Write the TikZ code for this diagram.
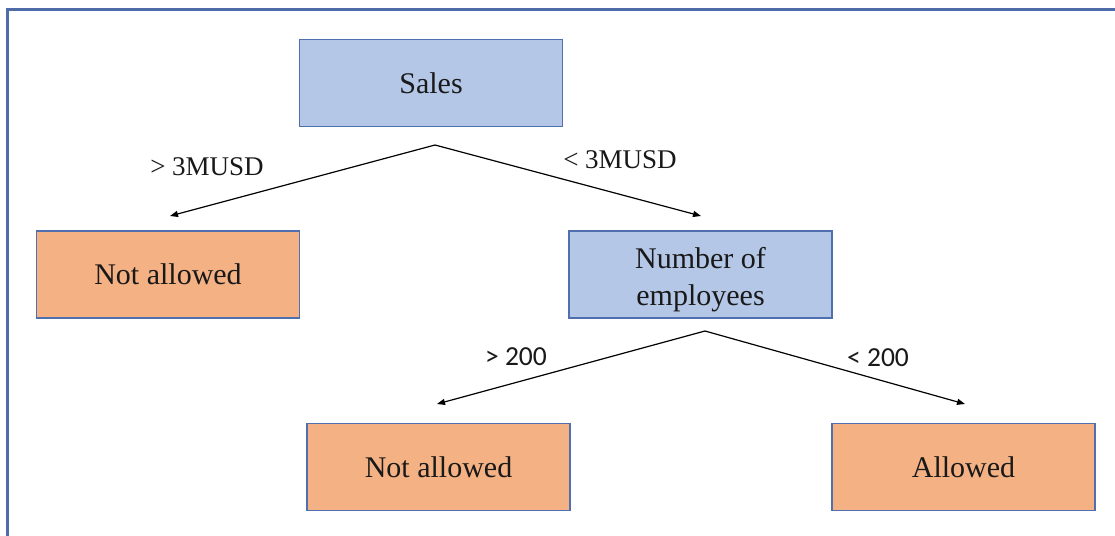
\documentclass[tikz,border=0pt]{standalone}
\usepackage{fontspec}
\setmainfont{Liberation Serif}
\newfontfamily\calfont{Carlito}
\usetikzlibrary{arrows.meta}
\definecolor{boxblue}{HTML}{B4C7E7}
\definecolor{boxorange}{HTML}{F4B183}
\definecolor{edgeblue}{HTML}{4F6FAE}
\definecolor{framec}{HTML}{4F6BA8}
\tikzset{
  box/.style={draw=edgeblue, line width=1.2pt, minimum width=263pt, minimum height=87pt,
    inner sep=0pt, align=center, font=\fontsize{30}{37}\selectfont, text=black!90},
  decision/.style={box, fill=boxblue},
  outcome/.style={box, fill=boxorange},
  conn/.style={line width=1.2pt, -{Triangle[length=8pt,width=6pt]}},
  lbl/.style={font=\fontsize{27}{32}\selectfont, inner sep=0pt, text=black!90},
  lbls/.style={font=\calfont\fontsize{27.5}{32}\selectfont, inner sep=0pt, text=black!90}
}
\begin{document}
\begin{tikzpicture}[x=1pt,y=-1pt]
\useasboundingbox (0,0) rectangle (1115,535);
\fill[white] (0,0) rectangle (1115,535);
\draw[framec, line width=2.2pt] (7.5,537) -- (7.5,9.5) -- (1117,9.5);

\node[decision] (sales) at (431,83) {Sales};
\node[outcome] (na1) at (168,274.5) {Not allowed};
\node[decision] (emp) at (700.5,274.5) {\raisebox{-5pt}[\height][\depth]{\begin{tabular}{@{}c@{}}Number of\\employees\end{tabular}}};
\node[outcome] (na2) at (438.5,467) {Not allowed};
\node[outcome] (al) at (963.5,467) {Allowed};

\coordinate (s0) at (435,145);
\coordinate (s1) at (170,216);
\coordinate (s2) at (701,216);
\coordinate (e0) at (705,331);
\coordinate (e1) at (437,404);
\coordinate (e2) at (965,404);

\draw[conn] (s0) -- (s1);
\draw[conn] (s0) -- (s2);
\draw[conn] (e0) -- (e1);
\draw[conn] (e0) -- (e2);

\node[lbl] (l1) at (207,167) {> 3MUSD};
\node[lbl] (l2) at (620,160) {< 3MUSD};
\node[lbls] (l3) at (516,357) {> 200};
\node[lbls] (l4) at (878,358) {< 200};
\end{tikzpicture}
\end{document}
